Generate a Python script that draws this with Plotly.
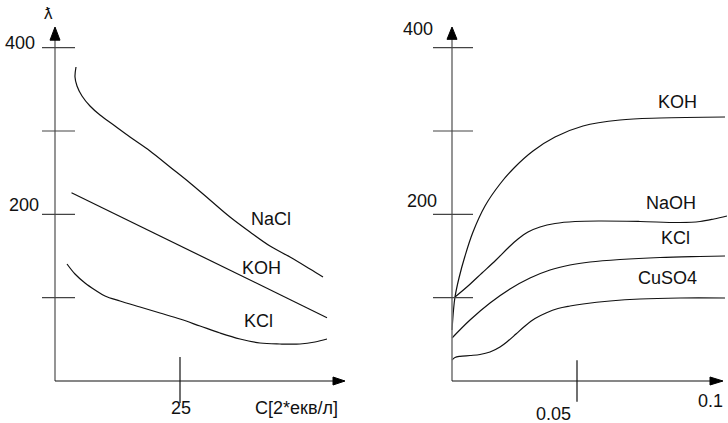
import plotly.graph_objects as go

W, H = 728, 423

# ---------------- data ----------------
# left panel: lambda vs C
nacl_c = [4.2, 4.0, 4.4, 5.4, 7, 9, 12, 15, 19, 23, 27, 31, 35, 39, 43, 47, 51, 53.6]
nacl_l = [376.8, 364.8, 354, 342, 330, 319.2, 306, 292.8, 276, 256.8, 237.6, 217.2,
          196.8, 178.8, 162, 148.8, 134.4, 124.8]
koh_left_c = [3.3, 54.4]
koh_left_l = [226, 76]
kcl_left_c = [2.4, 4, 6, 8, 10, 13, 17, 21, 25, 29, 33, 37, 41, 45, 49, 52, 54.4]
kcl_left_l = [140.4, 128.4, 117.6, 109.2, 102, 96, 88.8, 81.6, 74.4, 66, 57.6, 50.4,
              45.6, 44.4, 44.4, 46.8, 50.4]

# right panel
koh_right_c = [0.0, 0.0006, 0.0012, 0.0028, 0.0052, 0.0084, 0.0132, 0.0192, 0.0252,
               0.0324, 0.0412, 0.0524, 0.0672, 0.0832, 0.1092]
koh_right_l = [61.2, 85.2, 100.8, 123.6, 150, 178.8, 210, 236.4, 256.8, 276, 292.8,
               306, 313.2, 315.6, 316.8]
naoh_c = [0.0012, 0.0064, 0.012, 0.0176, 0.0224, 0.0264, 0.0304, 0.0352, 0.0412, 0.0492,
          0.0592, 0.0752, 0.0912, 0.0992, 0.1048, 0.110]
naoh_l = [100.8, 114, 129.6, 145.2, 159.6, 170.4, 178.8, 184.8, 189, 191.4, 192, 191.4,
          190.2, 191.4, 194.4, 198]
kcl_right_c = [0.0, 0.0072, 0.0152, 0.0232, 0.0312, 0.0392, 0.0472, 0.0552, 0.0672,
               0.0832, 0.0992, 0.1092]
kcl_right_l = [51.6, 73.2, 93.6, 110.4, 123.6, 133.2, 139.2, 142.8, 145.8, 148.2, 149.4,
               150]
cuso4_c = [0.0, 0.0012, 0.0032, 0.0072, 0.0112, 0.0152, 0.0192, 0.0224, 0.0256, 0.0292,
           0.0332, 0.0376, 0.0424, 0.0472, 0.0524, 0.0632, 0.0752, 0.0912, 0.1092]
cuso4_l = [25.2, 28.2, 29.6, 30.6, 31.8, 34.8, 40.8, 48, 56.4, 66, 75, 81.6, 87, 90,
           92.4, 96, 98.4, 99.6, 99.6]

y_ticks = [100, 200, 300, 400]
y_tick_labels = ["200", "400"]
left_x_tick = 25
right_x_tick = 0.05
left_x_title = "C[2*екв/л]"
right_x_end_label = "0.1"
y_title = "ƛ"

# ---------------- layout helpers ----------------
Y_BOT, Y_TOP = -50.4, 457.2
XL = (-11, 61.8)
XR = (-0.0352, 0.1104)


def pp(px, py):
    return px / W, 1 - py / H


fig = go.Figure()
line_style = dict(color="#111111", width=1.2, shape="spline", smoothing=1.0)

for c, l in [(nacl_c, nacl_l), (koh_left_c, koh_left_l), (kcl_left_c, kcl_left_l)]:
    fig.add_trace(go.Scatter(x=c, y=l, mode="lines", line=line_style,
                             xaxis="x", yaxis="y", hoverinfo="skip", showlegend=False))
for c, l in [(koh_right_c, koh_right_l), (naoh_c, naoh_l), (kcl_right_c, kcl_right_l),
             (cuso4_c, cuso4_l)]:
    fig.add_trace(go.Scatter(x=c, y=l, mode="lines", line=line_style,
                             xaxis="x2", yaxis="y2", hoverinfo="skip", showlegend=False))

shapes = []
grey = dict(color="#7a7a7a", width=1.6)
blk = dict(color="#111111", width=1.2)
tickl = dict(color="#444444", width=1.2)

# left axes
shapes.append(dict(type="line", xref="x", yref="y", x0=0, x1=0, y0=0, y1=410, line=grey))
shapes.append(dict(type="line", xref="x", yref="y", x0=0, x1=56, y0=0, y1=0, line=blk))
shapes.append(dict(type="path", xref="x", yref="y", path="M -1,409 L 0,424.8 L 1,409 Z",
                   fillcolor="black", line=dict(color="black", width=1)))
shapes.append(dict(type="path", xref="x", yref="y", path="M 55.6,-4.8 L 58,0 L 55.6,4.8 Z",
                   fillcolor="black", line=dict(color="black", width=1)))
for t in y_ticks:
    shapes.append(dict(type="line", xref="x", yref="y", x0=-2.6, x1=4, y0=t, y1=t, line=tickl))
shapes.append(dict(type="line", xref="x", yref="y", x0=left_x_tick, x1=left_x_tick,
                   y0=-26.4, y1=28.8, line=blk))

# right axes
shapes.append(dict(type="line", xref="x2", yref="y2", x0=0, x1=0, y0=0, y1=411, line=grey))
shapes.append(dict(type="line", xref="x2", yref="y2", x0=0, x1=0.1040, y0=0, y1=0, line=blk))
shapes.append(dict(type="path", xref="x2", yref="y2", path="M -0.002,410 L 0,424.8 L 0.002,410 Z",
                   fillcolor="black", line=dict(color="black", width=1)))
shapes.append(dict(type="path", xref="x2", yref="y2", path="M 0.1032,-4.8 L 0.1084,0 L 0.1032,4.8 Z",
                   fillcolor="black", line=dict(color="black", width=1)))
for t in y_ticks:
    shapes.append(dict(type="line", xref="x2", yref="y2", x0=-0.0076, x1=0.0084, y0=t, y1=t,
                       line=tickl))
shapes.append(dict(type="line", xref="x2", yref="y2", x0=right_x_tick, x1=right_x_tick,
                   y0=-25, y1=25, line=blk))

font = dict(family="Liberation Sans, Arial, sans-serif", size=18, color="#111111")
ann = []


def label(text, px, py, size=18):
    x, y = pp(px, py)
    f = dict(font)
    f["size"] = size
    ann.append(dict(text=text, x=x, y=y, xref="paper", yref="paper", showarrow=False,
                    xanchor="center", yanchor="middle", font=f))


label(y_title, 48, 13, 17)
label(y_tick_labels[1], 20, 43)
label(y_tick_labels[0], 24, 205)
label(y_tick_labels[1], 418, 29)
label(y_tick_labels[0], 422, 201)
label(str(left_x_tick), 181, 408)
label(left_x_title, 296, 408)
label(str(right_x_tick), 553, 414)
label(right_x_end_label, 710, 401)
label("NaCl", 271, 219)
label("KOH", 261, 268)
label("KCl", 258, 321)
label("KOH", 677, 102)
label("NaOH", 671, 203)
label("KCl", 675, 238)
label("CuSO4", 667, 278)

ax_common = dict(visible=False, showgrid=False, zeroline=False, fixedrange=True)
fig.update_layout(
    width=W, height=H,
    margin=dict(l=0, r=0, t=0, b=0),
    paper_bgcolor="white", plot_bgcolor="white",
    xaxis=dict(domain=[0, 0.5], range=list(XL), anchor="y", **ax_common),
    yaxis=dict(domain=[0, 1], range=[Y_BOT, Y_TOP], anchor="x", **ax_common),
    xaxis2=dict(domain=[0.5, 1], range=list(XR), anchor="y2", **ax_common),
    yaxis2=dict(domain=[0, 1], range=[Y_BOT, Y_TOP], anchor="x2", **ax_common),
    shapes=shapes,
    annotations=ann,
    showlegend=False,
)

fig.write_html("out.html", config={"displayModeBar": False},
               post_script="document.body.style.margin='0';document.body.style.overflow='hidden';")
